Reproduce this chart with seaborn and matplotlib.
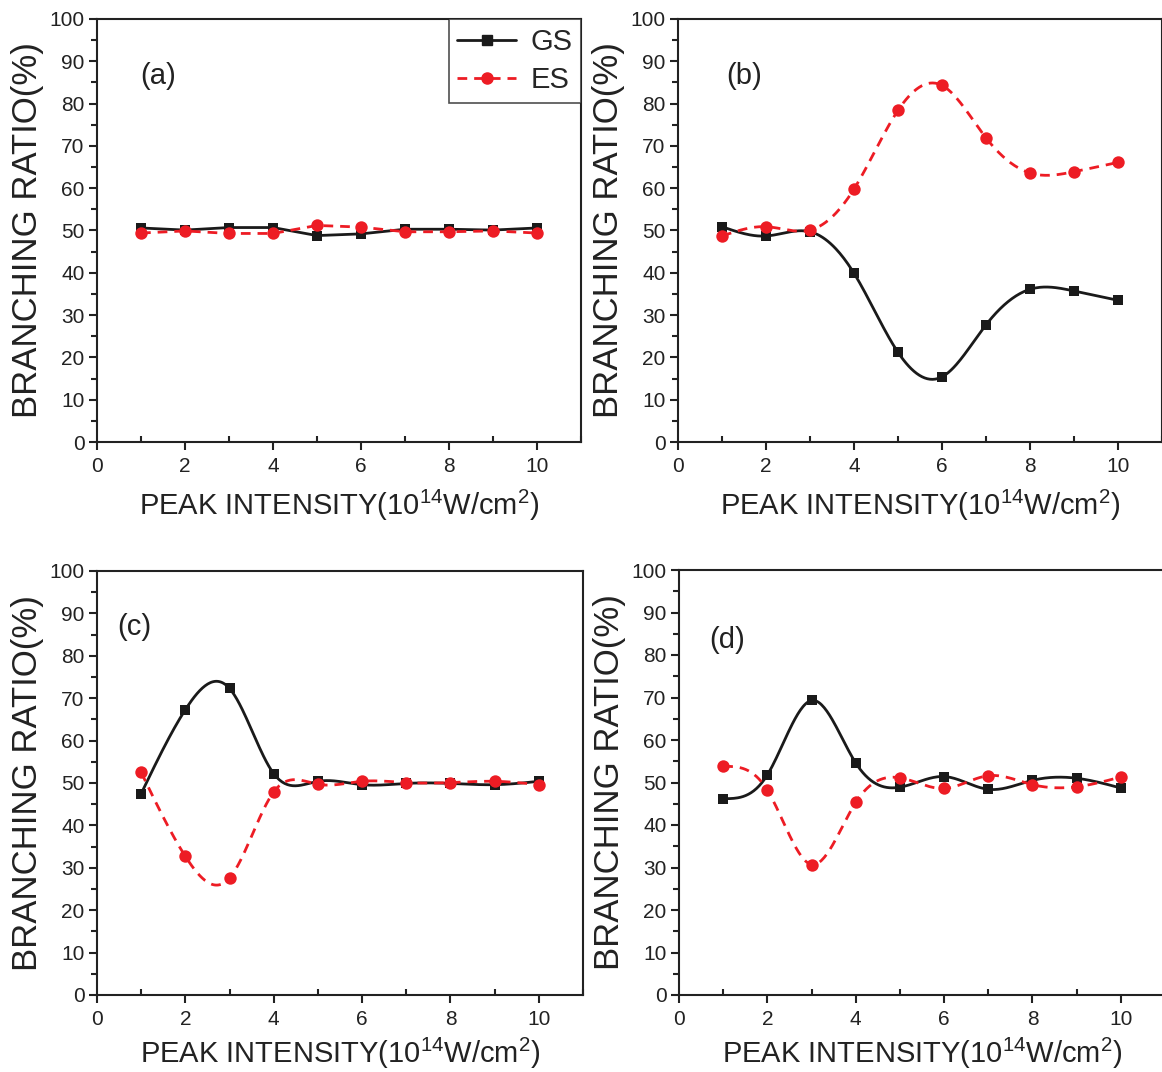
import numpy as np
import pandas as pd
import seaborn as sns
import matplotlib.pyplot as plt
from matplotlib.lines import Line2D
from matplotlib.ticker import MultipleLocator

# peak intensity (10^14 W/cm^2)
intensity = [1, 2, 3, 4, 5, 6, 7, 8, 9, 10]

# branching ratio (%)
gs_a = [50.6, 50.1, 50.7, 50.7, 48.8, 49.2, 50.3, 50.3, 50.1, 50.6]
es_a = [49.4, 49.9, 49.3, 49.3, 51.2, 50.8, 49.7, 49.7, 49.9, 49.4]

gs_b = [50.9, 48.7, 49.7, 39.9, 21.2, 15.4, 27.7, 36.1, 35.7, 33.5]
es_b = [48.7, 50.9, 50.1, 59.8, 78.4, 84.3, 71.9, 63.6, 63.9, 66.1]

gs_c = [47.5, 67.3, 72.3, 52.2, 50.4, 49.6, 49.9, 49.9, 49.6, 50.4]
es_c = [52.5, 32.7, 27.6, 47.9, 49.7, 50.4, 50.1, 50.1, 50.4, 49.6]

gs_d = [46.2, 51.8, 69.3, 54.6, 48.9, 51.4, 48.4, 50.5, 51.0, 48.7]
es_d = [53.8, 48.2, 30.7, 45.3, 51.1, 48.6, 51.6, 49.5, 49.0, 51.3]

panels = [
    ("(a)", gs_a, es_a, False),
    ("(b)", gs_b, es_b, True),
    ("(c)", gs_c, es_c, True),
    ("(d)", gs_d, es_d, True),
]

RED = "#ED1C24"
BLACK = "#1a1a1a"


def spline_curve(x, y, n=300):
    """Natural cubic spline through the points (Origin-style spline connect)."""
    x = np.asarray(x, float)
    y = np.asarray(y, float)
    h = np.diff(x)
    m = len(x)
    A = np.zeros((m, m))
    r = np.zeros(m)
    A[0, 0] = A[-1, -1] = 1
    for i in range(1, m - 1):
        A[i, i - 1] = h[i - 1]
        A[i, i] = 2 * (h[i - 1] + h[i])
        A[i, i + 1] = h[i]
        r[i] = 6 * ((y[i + 1] - y[i]) / h[i] - (y[i] - y[i - 1]) / h[i - 1])
    M = np.linalg.solve(A, r)
    xs = np.linspace(x[0], x[-1], n)
    idx = np.clip(np.searchsorted(x, xs) - 1, 0, m - 2)
    x0, x1 = x[idx], x[idx + 1]
    hh = x1 - x0
    t1 = x1 - xs
    t0 = xs - x0
    ys = (M[idx] * t1 ** 3 + M[idx + 1] * t0 ** 3) / (6 * hh) \
        + (y[idx] / hh - M[idx] * hh / 6) * t1 \
        + (y[idx + 1] / hh - M[idx + 1] * hh / 6) * t0
    return xs, ys


sns.set_theme(style="ticks")
plt.rcParams["font.family"] = ["Liberation Sans", "DejaVu Sans"]
plt.rcParams["mathtext.fontset"] = "custom"
plt.rcParams["mathtext.rm"] = "Liberation Sans"

fig = plt.figure(figsize=(11.62, 10.72), dpi=100)
W, H = 1162, 1072
boxes = [(97, 19, 484, 423), (678, 19, 484, 423),
         (97, 571, 486, 424), (679, 570, 486, 425)]

for (label, gs, es, smooth), (l, t, w, h) in zip(panels, boxes):
    ax = fig.add_axes([l / W, 1 - (t + h) / H, w / W, h / H])
    if smooth:
        xs, ys_gs = spline_curve(intensity, gs)
        _, ys_es = spline_curve(intensity, es)
    else:
        xs, ys_gs, ys_es = intensity, gs, es
    sns.lineplot(x=xs, y=ys_gs, ax=ax, color=BLACK, lw=2.0, sort=False)
    sns.lineplot(x=xs, y=ys_es, ax=ax, color=RED, lw=2.0, sort=False,
                 linestyle=(0, (3.5, 2.5)))
    df = pd.DataFrame({"x": intensity, "gs": gs, "es": es})
    sns.scatterplot(data=df, x="x", y="gs", ax=ax, marker="s", s=60,
                    color=BLACK, edgecolor=BLACK, linewidth=0, zorder=3)
    sns.scatterplot(data=df, x="x", y="es", ax=ax, marker="o", s=80,
                    color=RED, edgecolor=RED, linewidth=0, zorder=4)

    ax.set_xlim(0, 11)
    ax.set_ylim(0, 100)
    ax.xaxis.set_major_locator(MultipleLocator(2))
    ax.xaxis.set_minor_locator(MultipleLocator(1))
    ax.yaxis.set_major_locator(MultipleLocator(10))
    ax.yaxis.set_minor_locator(MultipleLocator(5))
    ax.set_xticks([0, 2, 4, 6, 8, 10])
    ax.tick_params(which="both", direction="out", labelsize=15, width=1.5,
                   colors="#222222")
    ax.tick_params(axis="x", which="both", pad=5)
    ax.tick_params(axis="y", which="both", pad=3)
    ax.tick_params(which="major", length=6)
    ax.tick_params(which="minor", length=4)
    ax.tick_params(axis="x", which="minor", direction="in")
    for sp in ax.spines.values():
        sp.set_linewidth(1.5)
        sp.set_color("#222222")
    top_row = label in ("(a)", "(b)")
    ax.set_xlabel(r"PEAK INTENSITY(10$^{14}$W/cm$^{2}$)", fontsize=21,
                  color="#222222", labelpad=8 if top_row else 5)
    ax.set_ylabel("BRANCHING RATIO(%)", fontsize=25, color="#222222",
                  labelpad=4)
    pos = {"(a)": (0.09, 0.865), "(b)": (0.099, 0.865),
           "(c)": (0.041, 0.868), "(d)": (0.062, 0.835)}[label]
    ax.text(pos[0], pos[1], label, transform=ax.transAxes, fontsize=21,
            va="center", ha="left", color="#222222")

    if label == "(a)":
        handles = [
            Line2D([], [], color=BLACK, lw=2, marker="s", markersize=7),
            Line2D([], [], color=RED, lw=2, marker="o", markersize=8,
                   linestyle=(0, (3.5, 2.5))),
        ]
        leg = ax.legend(handles, ["GS", "ES"], loc="upper right",
                        fontsize=21, frameon=True, fancybox=False,
                        borderaxespad=0, handlelength=2.0, labelspacing=0.35,
                        borderpad=0.3, handletextpad=0.5)
        leg.get_frame().set_edgecolor("#222222")
        leg.get_frame().set_linewidth(1.2)

fig.savefig("out.png", dpi=100)
